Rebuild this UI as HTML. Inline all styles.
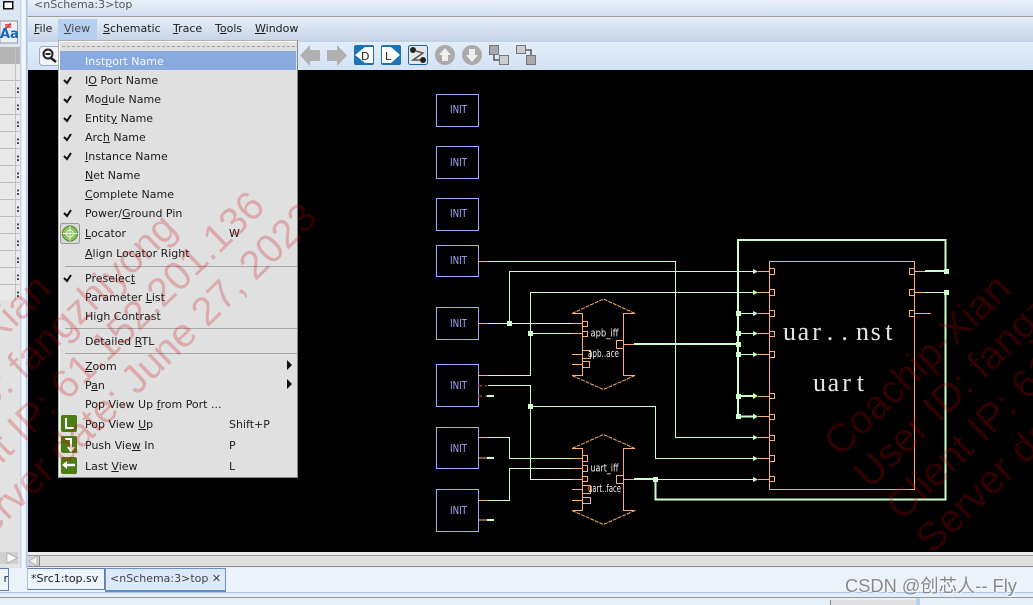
<!DOCTYPE html>
<html><head><meta charset="utf-8"><style>
html,body{margin:0;padding:0;background:#e4edf7}
#r{position:relative;width:1033px;height:605px;overflow:hidden;font-family:"DejaVu Sans","Liberation Sans",sans-serif;font-size:11px;color:#222}
.a{position:absolute}
.m{position:absolute;white-space:nowrap;line-height:14px;color:#1c1c1c}
.it{position:absolute;left:26px;margin-top:1px;white-space:nowrap;line-height:14px;color:#1c1c1c}
.sc{position:absolute;left:170px;margin-top:1px;line-height:14px}
.sp{position:absolute;left:6px;width:232px;height:1px;background:#a8a8a8}
svg{position:absolute;left:0;top:0}
text{font-family:"DejaVu Sans",sans-serif}
</style></head><body><div id="r">
<div class="a" style="left:0;top:0;width:21px;height:568px;background:#e2e2e2"></div>
<div class="a" style="left:20px;top:0;width:8px;height:592px;background:linear-gradient(90deg,#b8cbe6,#f4f8fd 30%,#f4f8fd 65%,#a8c4ea 80%,#c8dbf2)"></div>
<div class="a" style="left:0;top:0;width:20px;height:46px;background:#dbe7f5"></div>
<div class="a" style="left:0;top:47px;width:20px;height:17px;background:#b4b4b4"></div>
<div class="a" style="left:0;top:64px;width:20px;height:236px;background:repeating-linear-gradient(180deg,#e9e9e9 0,#e9e9e9 16px,#bdbdbd 16px,#bdbdbd 17px)"></div>
<div class="a" style="left:15px;top:47px;width:1px;height:253px;background:#c4c4c4"></div>

<div class="a" style="left:28px;top:0;width:1005px;height:16px;background:linear-gradient(#eaf1f9,#cfdff1)"></div>
<div class="a" style="left:34px;top:-2px;color:#555;line-height:14px;font-size:11px">&lt;nSchema:3&gt;top</div>
<div class="a" style="left:28px;top:16px;width:1005px;height:1px;background:#9d9d9d"></div>
<div class="a" style="left:28px;top:17px;width:1005px;height:25px;background:linear-gradient(#e8f0f9,#c2d2e6)"></div>
<div class="a" style="left:58px;top:19px;width:39px;height:21px;background:#b6cff0"></div>
<div class="m" style="left:34px;top:22px"><u>F</u>ile</div>
<div class="m" style="left:64px;top:22px;color:#444"><u>V</u>iew</div>
<div class="m" style="left:103px;top:22px"><u>S</u>chematic</div>
<div class="m" style="left:173px;top:22px"><u>T</u>race</div>
<div class="m" style="left:215px;top:22px">T<u>o</u>ols</div>
<div class="m" style="left:255px;top:22px"><u>W</u>indow</div>
<div class="a" style="left:28px;top:42px;width:1005px;height:28px;background:linear-gradient(#e4eefa,#d2e2f4)"></div>

<div class="a" style="left:28px;top:70px;width:1005px;height:482px;background:#000"></div>
<div class="a" style="left:28px;top:552px;width:1005px;height:3px;background:#ececec"></div>
<div class="a" style="left:28px;top:555px;width:1005px;height:10px;background:#dfdfdf;border-top:1px solid #9a9a9a;border-bottom:1px solid #8c8c8c"></div>
<div class="a" style="left:0;top:568px;width:1033px;height:24px;background:#ecf2f9"></div>
<div class="a" style="left:0;top:592px;width:1033px;height:1px;background:#a9c4ea"></div>
<div class="a" style="left:0;top:597px;width:1033px;height:1px;background:#9a9a9a"></div>
<div class="a" style="left:0;top:598px;width:1033px;height:7px;background:#e6f0f9"></div>
<div class="a" style="left:0;top:568px;width:8px;height:21px;background:#edf3fa;border:1px solid #5f7ea8;border-left:0;line-height:20px;font-size:11px;text-align:right">r</div>
<div class="a" style="left:27px;top:568px;height:22px;width:78px;box-sizing:border-box;background:#edf3fa;border:1px solid #5f7ea8;border-left:1px solid #a9c4ea;line-height:20px;font-size:11px;padding-left:3px;color:#222;white-space:nowrap">*Src1:top.sv</div>
<div class="a" style="left:105px;top:568px;width:121px;height:24px;box-sizing:border-box;background:#dce9f8;border:1px solid #6a90c4;border-bottom:2px solid #5f8ccb;line-height:20px;font-size:11px;padding-left:4px;color:#444;white-space:nowrap">&lt;nSchema:3&gt;top ✕</div>
<div class="a" style="left:830px;top:600px;width:85px;height:5px;background:#e0e0e0;border-left:1px solid #888"></div>
<div class="a" style="left:916px;top:598px;width:4px;height:7px;background:#b8cfee"></div>

<svg width="1033" height="605" viewBox="0 0 1033 605">
<g shape-rendering="crispEdges">
<rect x="3.500" y="1.500" width="9" height="7" fill="#fff" stroke="#111" stroke-width="1.500"/>
<rect x="0" y="21" width="17.500" height="22" fill="#eaf0f8" stroke="#999"/>
</g>
<text x="0" y="38" font-size="13" font-weight="bold" fill="#1467c0">Aa</text>
<text x="4" y="29" font-size="10" font-weight="bold" fill="#d22">≠</text>
<g fill="#333" font-size="10" font-weight="bold">
<text x="16" y="93">:</text><text x="16" y="110">:</text><text x="16" y="127">:</text><text x="16" y="144">:</text><text x="16" y="161">:</text><text x="16" y="178">:</text><text x="16" y="195">:</text><text x="16" y="212">:</text><text x="16" y="229">:</text><text x="16" y="246">:</text><text x="16" y="263">:</text><text x="16" y="280">:</text><text x="16" y="297">:</text>
</g>
<rect x="0" y="552" width="18" height="12" fill="#cfcfcf"/><polygon points="7,553 17,558 7,563" fill="#fff" stroke="#999" stroke-width=".6"/>
<rect x="28" y="556" width="11" height="10" fill="#cfcfcf"/><polygon points="37,556 29,561 37,566" fill="#eee" stroke="#999" stroke-width=".6"/>
<rect x="39" y="556" width="1" height="10" fill="#888"/>

<!-- toolbar -->
<rect x="39.500" y="46.500" width="20" height="19" rx="3" fill="#f1f6fc" stroke="#9aaec8"/>
<circle cx="48" cy="54" r="4.500" fill="#fff" stroke="#222" stroke-width="2"/><rect x="45.500" y="53" width="5" height="2" fill="#222"/><line x1="51" y1="58" x2="56" y2="62" stroke="#222" stroke-width="2.500"/>
<g fill="#b0b0b0"><polygon points="300,55.500 310,45 310,50 320,50 320,61 310,61 310,66"/><polygon points="347,55.500 337,45 337,50 327,50 327,61 337,61 337,66"/></g>
<rect x="354" y="45" width="20" height="20" rx="2" fill="#1c72b4"/><polygon points="355,55 365,47 373,47 373,63 365,63" fill="#fff"/><text x="361" y="60" font-size="11" fill="#222">D</text>
<rect x="381" y="45" width="20" height="20" rx="2" fill="#1c72b4"/><polygon points="382,47 391,47 400,55 391,63 382,63" fill="#fff"/><text x="385" y="60" font-size="11" fill="#222">L</text>
<rect x="408.500" y="45.500" width="19" height="19" rx="2" fill="#e6e6e6" stroke="#1c62a4"/><circle cx="413" cy="50" r="3" fill="#222"/><circle cx="423" cy="60" r="3" fill="#222"/><path d="M416 51L423 53L413 60L420 60" fill="none" stroke="#555" stroke-width="1.500"/>
<circle cx="445" cy="55" r="10" fill="#aaa"/><polygon points="445,48 451,55 448,55 448,61 442,61 442,55 439,55" fill="#eee"/>
<circle cx="472" cy="55" r="10" fill="#aaa"/><polygon points="472,62 478,55 475,55 475,49 469,49 469,55 466,55" fill="#eee"/>
<g fill="#aaa" stroke="#777"><rect x="489.500" y="45.500" width="9" height="9"/><rect x="499.500" y="55.500" width="9" height="9" fill="#ccc"/><rect x="516.500" y="45.500" width="9" height="8" fill="#ccc"/><rect x="526.500" y="55.500" width="9" height="9"/></g>
<path d="M494 55V60H499M526 50H531V55" fill="none" stroke="#555" stroke-width="1.500"/>

<!-- schematic -->
<g fill="none" stroke="#a6a6ff" shape-rendering="crispEdges">
<rect x="436.500" y="94.500" width="42" height="32"/><rect x="436.500" y="146.500" width="42" height="32"/><rect x="436.500" y="198.500" width="42" height="32"/><rect x="436.500" y="245.500" width="42" height="31"/><rect x="436.500" y="307.500" width="42" height="32"/><rect x="436.500" y="364.500" width="42" height="42"/><rect x="436.500" y="427.500" width="42" height="41"/><rect x="436.500" y="489.500" width="42" height="42"/>
</g>
<g fill="#a6a6ff" font-size="11">
<text x="450" y="113" textLength="17" lengthAdjust="spacingAndGlyphs">INIT</text><text x="450" y="166" textLength="17" lengthAdjust="spacingAndGlyphs">INIT</text><text x="450" y="217" textLength="17" lengthAdjust="spacingAndGlyphs">INIT</text><text x="450" y="264" textLength="17" lengthAdjust="spacingAndGlyphs">INIT</text><text x="450" y="327" textLength="17" lengthAdjust="spacingAndGlyphs">INIT</text><text x="450" y="389" textLength="17" lengthAdjust="spacingAndGlyphs">INIT</text><text x="450" y="452" textLength="17" lengthAdjust="spacingAndGlyphs">INIT</text><text x="450" y="514" textLength="17" lengthAdjust="spacingAndGlyphs">INIT</text>
</g>
<g fill="none" stroke="#ccffcc" shape-rendering="crispEdges">
<path d="M488 261.500H675.500V437.500H753"/>
<path d="M488 323.500H572M509.500 323.500V271.500H753"/>
<path d="M488 375.500H530.500V292.500H753M530.500 333.500H572"/>
<path d="M488 385.500H530.500V479.500H572M530.500 406.500H655.500V458.500H753"/>
<path d="M488 437.500H509.500V458.500H572"/>
<path d="M488 500.500H509.500V468.500H572"/>
<path d="M655 479.500H753"/>
<path d="M738 313.500H753M738 333.500H753M738 354.500H753"/>
<path d="M925 292.500H946"/>
</g>
<g fill="none" stroke="#ccffcc" stroke-width="2" shape-rendering="crispEdges">
<path d="M738 417V240H945.500V271"/>
<path d="M634 344H738"/><path d="M634 479H655.500V499.500H945.500V292"/>
<path d="M925 271H946"/><path d="M738 396H753M738 416.500H753"/>
<path d="M487 396H494M487 458H494M487 520H494"/>
</g>
<g fill="#ccffcc" shape-rendering="crispEdges">
<rect x="507" y="321" width="5" height="5"/><rect x="528" y="331" width="5" height="5"/><rect x="528" y="404" width="5" height="5"/><rect x="653" y="477" width="5" height="5"/>
<rect x="736" y="311" width="5" height="5"/><rect x="736" y="331" width="5" height="5"/><rect x="736" y="342" width="5" height="5"/><rect x="736" y="352" width="5" height="5"/><rect x="736" y="394" width="5" height="5"/><rect x="736" y="414" width="5" height="5"/>
<rect x="944" y="269" width="5" height="5"/><rect x="944" y="290" width="5" height="5"/>
</g>
<g fill="#ccffcc">
<polygon points="753,269 758,271.500 753,274"/><polygon points="753,290 758,292.500 753,295"/><polygon points="753,311 758,313.500 753,316"/><polygon points="753,331 758,333.500 753,336"/><polygon points="753,352 758,354.500 753,357"/><polygon points="753,393 758,396 753,399"/><polygon points="753,413.500 758,416.500 753,419.500"/><polygon points="753,435 758,437.500 753,440"/><polygon points="753,456 758,458.500 753,461"/><polygon points="753,477 758,479.500 753,482"/>
</g>
<g fill="none" stroke="#ffb066" shape-rendering="crispEdges">
<path d="M478 261.500H488M478 323.500H488M478 375.500H488M478 437.500H488M478 500.500H488M478 458H487M478 520H487"/>
<path d="M572 313.500H582.500V375.500H572M635 313.500H623.500V375.500H635"/>
<path d="M572 448.500H582.500V510.500H572M635 448.500H623.500V510.500H635"/>
<rect x="582.500" y="321.500" width="5" height="5"/><rect x="582.500" y="331.500" width="5" height="5"/><rect x="582.500" y="350.500" width="8" height="8"/><rect x="582.500" y="361.500" width="7" height="6"/>
<rect x="582.500" y="455.500" width="5" height="6"/><rect x="582.500" y="465.500" width="5" height="6"/><rect x="582.500" y="476.500" width="5" height="5"/><rect x="582.500" y="485.500" width="8" height="8"/><rect x="582.500" y="497.500" width="8" height="6"/>
<rect x="616.500" y="340.500" width="7" height="8"/><rect x="616.500" y="475.500" width="7" height="8"/>
<path d="M572 323.500H582M572 333.500H582M572 354.500H582M572 364.500H582M572 458.500H582M572 468.500H582M572 479.500H582M572 489.500H582M572 500.500H582M623 344.500H634M623 479.500H634"/>
<rect x="769.500" y="261.500" width="145" height="228"/>
<rect x="769.500" y="268.500" width="5" height="6"/><rect x="769.500" y="289.500" width="5" height="6"/><rect x="769.500" y="310.500" width="5" height="6"/><rect x="769.500" y="331.500" width="5" height="5"/><rect x="769.500" y="351.500" width="5" height="6"/><rect x="769.500" y="393.500" width="5" height="5"/><rect x="769.500" y="414.500" width="5" height="5"/><rect x="769.500" y="435.500" width="5" height="5"/><rect x="769.500" y="455.500" width="5" height="6"/><rect x="769.500" y="476.500" width="5" height="5"/>
<rect x="909.500" y="268.500" width="5" height="6"/><rect x="909.500" y="289.500" width="5" height="6"/><rect x="909.500" y="310.500" width="5" height="6"/>
<path d="M758 271.500H769M758 292.500H769M758 313.500H769M758 333.500H769M758 354.500H769M758 396.500H769M758 416.500H769M758 437.500H769M758 458.500H769M758 479.500H769M914 271.500H925M914 292.500H925M914 313.500H931"/>
</g>
<g fill="none" stroke="#ffb066" stroke-dasharray="4 1">
<path d="M572 313.500L603.500 299L635 313.500M572 375.500L603.500 389.500L635 375.500M572 448.500L603.500 434.500L635 448.500M572 510.500L603.500 524.500L635 510.500"/>
</g>
<path d="M478 385.500H487M478 396H487" stroke="#b03030" stroke-width="1.500" fill="none" stroke-dasharray="4 3" shape-rendering="crispEdges"/>
<g font-size="10.500" fill="#f0f0f0">
<text x="590.500" y="336.500" textLength="28" lengthAdjust="spacingAndGlyphs">apb_iff</text>
<text x="588" y="357" textLength="31" lengthAdjust="spacingAndGlyphs">apb..ace</text>
<text x="590.500" y="471.500" textLength="28" lengthAdjust="spacingAndGlyphs">uart_iff</text>
<text x="588" y="492" textLength="33" lengthAdjust="spacingAndGlyphs">uart..face</text>
</g>
<g font-size="26" fill="#e4e4e4">
<text x="783 797.600 812.200 826.800 841.400 856 870.600 885.200" y="340" style="font-family:'Liberation Serif',serif">uar..nst</text>
<text x="813 827.600 842.200 856.800" y="391" style="font-family:'Liberation Serif',serif">uart</text>
</g>
</svg>

<!-- menu -->
<div class="a" style="left:58px;top:40px;width:240px;height:438px;box-sizing:border-box;background:#e0e0e0;border:1px solid #b0b0b0;border-right:1px solid #888;border-bottom:1px solid #888;box-shadow:inset 1px 1px 0 #fff">
<div class="a" style="left:3px;top:5px;width:233px;height:0;border-top:1px dashed #a0a0a0"></div>
<div class="a" style="left:1px;top:10px;width:236px;height:19px;background:#88aadf"></div>
<div class="it" style="top:13px;color:#f4f8ff">Inst<u>p</u>ort Name</div>
<div class="it" style="top:32px">I<u>O</u> Port Name</div>
<div class="it" style="top:51px">Mo<u>d</u>ule Name</div>
<div class="it" style="top:70px">Entit<u>y</u> Name</div>
<div class="it" style="top:89px">Arc<u>h</u> Name</div>
<div class="it" style="top:108px"><u>I</u>nstance Name</div>
<div class="it" style="top:127px"><u>N</u>et Name</div>
<div class="it" style="top:146px"><u>C</u>omplete Name</div>
<div class="it" style="top:165px">Power/<u>G</u>round Pin</div>
<div class="it" style="top:185px"><u>L</u>ocator</div><div class="sc" style="top:185px">W</div>
<div class="it" style="top:205px"><u>A</u>lign Locator Right</div>
<div class="sp" style="top:225px"></div>
<div class="it" style="top:230px">Preselec<u>t</u></div>
<div class="it" style="top:249px">Parameter <u>L</u>ist</div>
<div class="it" style="top:268px">Hi<u>g</u>h Contrast</div>
<div class="sp" style="top:287px"></div>
<div class="it" style="top:293px">Detailed <u>R</u>TL</div>
<div class="sp" style="top:312px"></div>
<div class="it" style="top:318px"><u>Z</u>oom</div>
<div class="it" style="top:337px">P<u>a</u>n</div>
<div class="it" style="top:356px">Pop View Up <u>f</u>rom Port ...</div>
<div class="it" style="top:376px">Pop View <u>U</u>p</div><div class="sc" style="top:376px">Shift+P</div>
<div class="it" style="top:397px">Push Vie<u>w</u> In</div><div class="sc" style="top:397px">P</div>
<div class="it" style="top:418px">Last <u>V</u>iew</div><div class="sc" style="top:418px">L</div>
<svg width="238" height="436" viewBox="0 0 238 436">
<g fill="none" stroke="#111" stroke-width="2">
<path d="M5 39L8 42L12 36M5 58L8 61L12 55M5 77L8 80L12 74M5 96L8 99L12 93M5 115L8 118L12 112M5 172L8 175L12 169M5 237L8 240L12 234"/>
</g>
<rect x="1.500" y="182.500" width="19" height="20" rx="2" fill="#d8d8d8" stroke="#999"/>
<circle cx="11" cy="192.500" r="7.500" fill="#8cc060" stroke="#4f8030"/><circle cx="11" cy="192.500" r="3.500" fill="none" stroke="#e8f4d8"/><path d="M11 185V200M3.500 192.500H18.500" stroke="#e8f4d8"/>
<polygon points="228,319 233,324 228,329" fill="#111"/><polygon points="228,338 233,343 228,348" fill="#111"/>
<rect x="2" y="374" width="16" height="17" rx="2" fill="#4d7c16"/><path d="M7 377V387H15" stroke="#fff" stroke-width="2" fill="none"/>
<rect x="2" y="395" width="16" height="17" rx="2" fill="#4d7c16"/><path d="M6 398H12V409M9 406L12 410L15 406" stroke="#fff" stroke-width="2" fill="none"/>
<rect x="2" y="416" width="16" height="17" rx="2" fill="#4d7c16"/><path d="M6 424H16" stroke="#fff" stroke-width="2.500"/><polygon points="3,424 8,420 8,428" fill="#fff"/>
</svg>
</div>

<!-- watermark -->
<svg width="1033" height="605" viewBox="0 0 1033 605" style="pointer-events:none">
<g fill="rgba(205,0,0,.24)" font-size="40">
<text style="font-family:'Liberation Sans',sans-serif" transform="translate(-120 458) rotate(-44)">Coachip-Xian</text>
<text style="font-family:'Liberation Sans',sans-serif" transform="translate(-90 490) rotate(-44)">User ID: fangzhiyong</text>
<text style="font-family:'Liberation Sans',sans-serif" transform="translate(-58 522) rotate(-44)">Client IP: 61.152.201.136</text>
<text style="font-family:'Liberation Sans',sans-serif" transform="translate(-28 555) rotate(-44)">Server date: June 27, 2023</text>
<text style="font-family:'Liberation Sans',sans-serif" transform="translate(840 458) rotate(-44)">Coachip-Xian</text>
<text style="font-family:'Liberation Sans',sans-serif" transform="translate(870 490) rotate(-44)">User ID: fangzhiyong</text>
<text style="font-family:'Liberation Sans',sans-serif" transform="translate(902 522) rotate(-44)">Client IP: 61.152.201.136</text>
<text style="font-family:'Liberation Sans',sans-serif" transform="translate(932 555) rotate(-44)">Server date: June 27, 2023</text>
</g>
</svg>
<div class="a" style="left:845px;top:576px;font-family:'Liberation Sans','Noto Sans CJK SC',sans-serif;font-size:18.300px;line-height:20px;color:#8a8a8a;text-shadow:1px 1px 1px rgba(255,255,255,.7);white-space:nowrap">CSDN @创芯人-- Fly</div>
</div></body></html>
